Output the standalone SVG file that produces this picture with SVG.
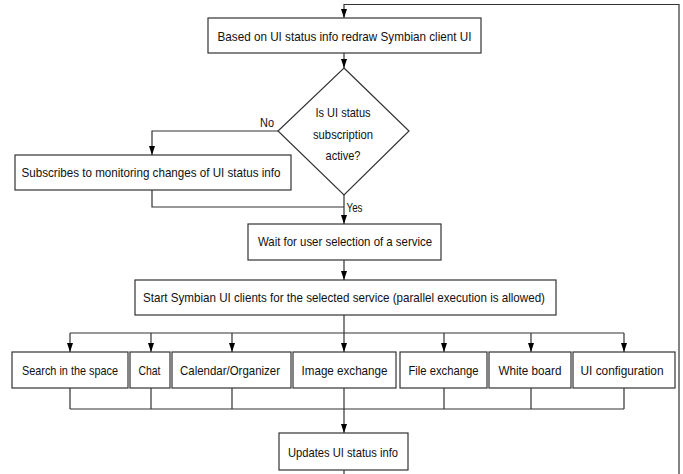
<svg xmlns="http://www.w3.org/2000/svg" width="683" height="474" viewBox="0 0 683 474">
  <defs>
    <marker id="arrow" viewBox="0 0 9 6" refX="9" refY="3" markerWidth="9" markerHeight="6" markerUnits="userSpaceOnUse" orient="auto">
      <path d="M0,0 L9,3 L0,6 Z" fill="#000"/>
    </marker>
    <style>
      .box { fill: #fff; stroke: #333; stroke-width: 1.2; }
      .wire { fill: none; stroke: #333; stroke-width: 1.2; }
      .arr { marker-end: url(#arrow); }
      text { font-family: "Liberation Sans", Arial, sans-serif; font-size: 13px; fill: #111; }
      .c { text-anchor: middle; }
    </style>
  </defs>

  <rect width="683" height="474" fill="#fff"/>

  <g id="connectors">
    <!-- loop back from the status update to the redraw step -->
    <path class="wire" d="M344,470 V476"/>
    <path class="wire arr" d="M679,476 V4.5 H344 V18"/>
    <!-- redraw -> decision -->
    <path class="wire arr" d="M344,53 V68"/>
    <!-- No branch -->
    <path class="wire arr" d="M278,131 H152 V155"/>
    <!-- subscribe rejoins main flow -->
    <path class="wire" d="M152,190 V207 H344"/>
    <!-- Yes branch -->
    <path class="wire arr" d="M344,195 V224"/>
    <path class="wire arr" d="M344,260 V280"/>
    <!-- fan out to services -->
    <path class="wire" d="M344,315 V333"/>
    <path class="wire" d="M70,333 H624"/>
    <path class="wire arr" d="M70,333 V352"/>
    <path class="wire arr" d="M151,333 V352"/>
    <path class="wire arr" d="M232,333 V352"/>
    <path class="wire arr" d="M344,333 V352"/>
    <path class="wire arr" d="M444,333 V352"/>
    <path class="wire arr" d="M531,333 V352"/>
    <path class="wire arr" d="M624,333 V352"/>
    <!-- fan in from services -->
    <path class="wire" d="M70,388 V409 M151,388 V409 M232,388 V409 M444,388 V409 M531,388 V409 M624,388 V409"/>
    <path class="wire" d="M70,409 H624"/>
    <path class="wire arr" d="M344,388 V433"/>
    <text x="260" y="127" textLength="14" lengthAdjust="spacingAndGlyphs">No</text>
    <text x="346.5" y="212" textLength="16" lengthAdjust="spacingAndGlyphs">Yes</text>
  </g>

  <g id="redraw">
    <rect class="box" x="208" y="18" width="273" height="35"/>
    <text class="c" x="344.5" y="41" textLength="254" lengthAdjust="spacingAndGlyphs">Based on UI status info redraw Symbian client UI</text>
  </g>

  <g id="decision">
    <polygon class="box" points="344,68 409,131 344,195 278,131"/>
    <text class="c" x="343" y="117" textLength="55" lengthAdjust="spacingAndGlyphs">Is UI status</text>
    <text class="c" x="343" y="139" textLength="60" lengthAdjust="spacingAndGlyphs">subscription</text>
    <text class="c" x="343" y="160" textLength="35" lengthAdjust="spacingAndGlyphs">active?</text>
  </g>

  <g id="subscribe">
    <rect class="box" x="15" y="155" width="276" height="35"/>
    <text class="c" x="151" y="177" textLength="259" lengthAdjust="spacingAndGlyphs">Subscribes to monitoring changes of UI status info</text>
  </g>

  <g id="wait">
    <rect class="box" x="248" y="224" width="193" height="36"/>
    <text class="c" x="345" y="246" textLength="174" lengthAdjust="spacingAndGlyphs">Wait for user selection of a service</text>
  </g>

  <g id="start">
    <rect class="box" x="135" y="280" width="421" height="35"/>
    <text class="c" x="344" y="302" textLength="402" lengthAdjust="spacingAndGlyphs">Start Symbian UI clients for the selected service (parallel execution is allowed)</text>
  </g>

  <g id="search">
    <rect class="box" x="12" y="352" width="116" height="36"/>
    <text class="c" x="70" y="375" textLength="96" lengthAdjust="spacingAndGlyphs">Search in the space</text>
  </g>
  <g id="chat">
    <rect class="box" x="130" y="352" width="40" height="36"/>
    <text class="c" x="149.5" y="375" textLength="22" lengthAdjust="spacingAndGlyphs">Chat</text>
  </g>
  <g id="calendar">
    <rect class="box" x="172" y="352" width="119" height="36"/>
    <text class="c" x="230" y="375" textLength="100" lengthAdjust="spacingAndGlyphs">Calendar/Organizer</text>
  </g>
  <g id="image">
    <rect class="box" x="293" y="352" width="103" height="36"/>
    <text class="c" x="344.5" y="375" textLength="86" lengthAdjust="spacingAndGlyphs">Image exchange</text>
  </g>
  <g id="file">
    <rect class="box" x="400" y="352" width="87" height="36"/>
    <text class="c" x="443.5" y="375" textLength="70" lengthAdjust="spacingAndGlyphs">File exchange</text>
  </g>
  <g id="whiteboard">
    <rect class="box" x="489" y="352" width="82" height="36"/>
    <text class="c" x="530" y="375" textLength="63" lengthAdjust="spacingAndGlyphs">White board</text>
  </g>
  <g id="uiconfig">
    <rect class="box" x="573" y="352" width="102" height="36"/>
    <text class="c" x="622" y="375" textLength="83" lengthAdjust="spacingAndGlyphs">UI configuration</text>
  </g>

  <g id="updates">
    <rect class="box" x="279" y="433" width="129" height="37"/>
    <text class="c" x="343" y="457" textLength="110" lengthAdjust="spacingAndGlyphs">Updates UI status info</text>
  </g>
</svg>
